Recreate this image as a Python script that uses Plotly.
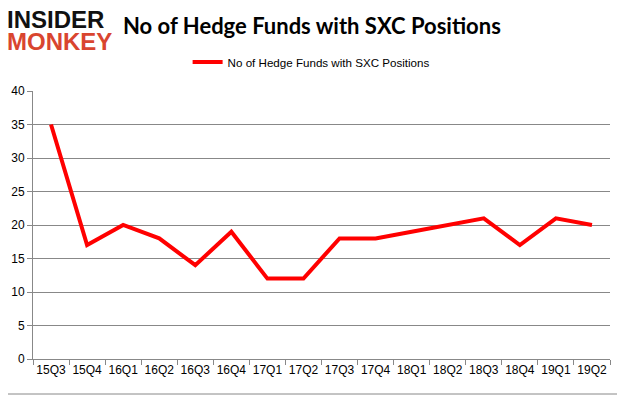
import plotly.graph_objects as go

quarters = ["15Q3", "15Q4", "16Q1", "16Q2", "16Q3", "16Q4", "17Q1", "17Q2",
            "17Q3", "17Q4", "18Q1", "18Q2", "18Q3", "18Q4", "19Q1", "19Q2"]
funds = [35, 17, 20, 18, 14, 19, 12, 12, 18, 18, 19, 20, 21, 17, 21, 20]
series_name = "No of Hedge Funds with SXC Positions"
y_ticks = [0, 5, 10, 15, 20, 25, 30, 35, 40]

fig = go.Figure()
fig.add_trace(go.Scatter(x=quarters, y=funds, mode="lines", name=series_name,
                         line=dict(color="#ff0000", width=4)))

fig.update_layout(
    width=625, height=395,
    margin=dict(l=25, r=23, t=83, b=44),
    paper_bgcolor="white", plot_bgcolor="white",
    font=dict(family="Liberation Sans", size=12, color="#000000"),
    showlegend=True,
    legend=dict(orientation="h", x=0.482, xanchor="center", y=0.863, yanchor="middle",
                yref="container", font=dict(size=11.6, family="Liberation Sans"),
                itemwidth=30),
    xaxis=dict(type="category", range=[-0.5, len(quarters) - 0.5], showline=True,
               linecolor="#888888", ticks="outside", tickson="boundaries", ticklen=5,
               tickcolor="#888888", showgrid=False, tickangle=0, automargin=False,
               tickfont=dict(size=12)),
    yaxis=dict(range=[0, 40], tickvals=y_ticks, showline=True, linecolor="#888888",
               ticks="outside", ticklen=5, tickcolor="#888888", showgrid=True,
               gridcolor="#888888", gridwidth=1, zeroline=False, automargin=False,
               tickfont=dict(size=12)),
)

fig.add_annotation(text="<b>No of Hedge Funds with SXC Positions</b>", xref="paper", yref="paper",
                   x=0.4835, y=1.246, xanchor="center", yanchor="middle", showarrow=False,
                   font=dict(family="Lato", size=22, color="#000000"))
fig.add_annotation(text="<b>INSIDER</b>", xref="paper", yref="paper", x=-0.0485, y=1.268,
                   xanchor="left", yanchor="middle", showarrow=False,
                   font=dict(family="Liberation Sans", size=24, color="#111111"))
fig.add_annotation(text="<b>MONKEY</b>", xref="paper", yref="paper", x=-0.0485, y=1.183,
                   xanchor="left", yanchor="middle", showarrow=False,
                   font=dict(family="Liberation Sans", size=24, color="#d9452f"))
fig.add_shape(type="rect", xref="paper", yref="paper", x0=-0.0563, x1=1.0243, y0=-0.1306, y1=1.3396,
              line=dict(color="#888888", width=1))

fig.write_html("out.html")
